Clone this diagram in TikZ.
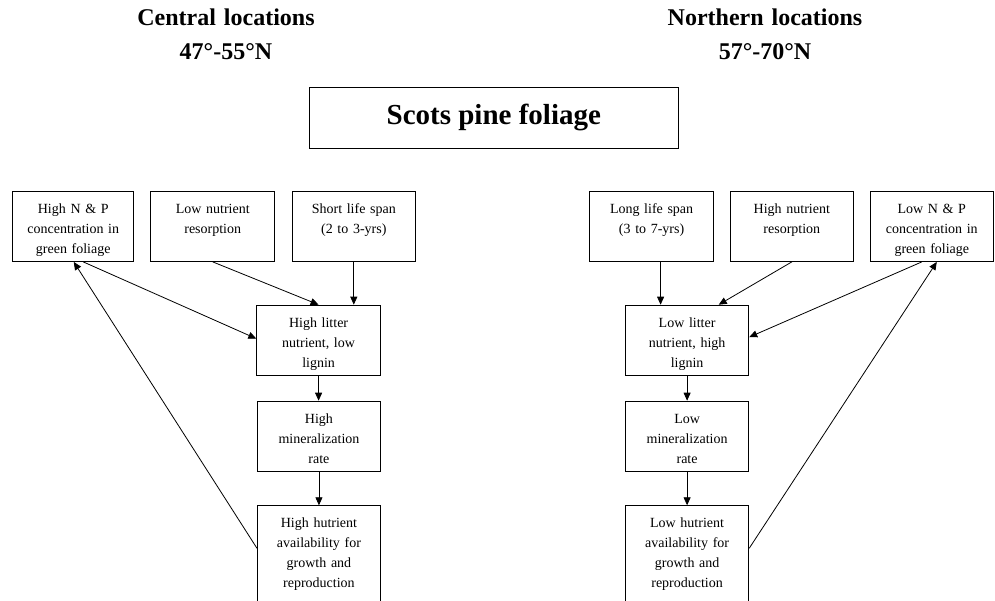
\documentclass[tikz,border=0pt]{standalone}
\usepackage{fontspec}
\setmainfont{Liberation Serif}
\usetikzlibrary{arrows.meta}
\begin{document}
\begin{tikzpicture}[x=1pt,y=-1pt,
  box/.style={draw, line width=0.9pt, align=center, inner sep=0pt,
    text height=22pt, text depth=48pt, font=\fontsize{14}{20}\selectfont},
  tallbox/.style={box, text depth=120pt},
  hdr/.style={align=center, text width=300pt, inner sep=0pt,
    font=\bfseries\fontsize{24}{34}\selectfont},
  arr/.style={line width=0.8pt, -{Triangle[length=8pt,width=7pt]}}]
\clip (0,0) rectangle (995,601);
\fill[white] (0,0) rectangle (995,601);
% headers
\node[hdr, anchor=base] (hc) at (226,26) {Central locations\\47°-55°N};
\node[hdr, anchor=base] (hn) at (765,26) {Northern locations\\57°-70°N};
\node[draw, line width=0.9pt, minimum width=368.7pt, minimum height=60.4pt,
  anchor=north west, font=\bfseries\fontsize{29}{34}\selectfont] (title) at (309,87.3) {Scots pine foliage};
% left
\node[box, text width=121pt, anchor=north west] (L1) at (12.3,191) {High N \& P\\concentration in\\green foliage};
\node[box, text width=124pt, anchor=north west] (L2) at (150.3,191) {Low nutrient\\resorption};
\node[box, text width=123.3pt, anchor=north west] (L3) at (291.7,191) {Short life span\\(2 to 3-yrs)};
\node[box, text width=123.7pt, anchor=north west] (LL) at (256.3,304.7) {High litter\\nutrient, low\\lignin};
\node[box, text width=123pt, anchor=north west] (LM) at (257,400.7) {High\\mineralization\\rate};
\node[tallbox, text width=123pt, anchor=north west] (LA) at (257,505.3) {High hutrient\\availability for\\growth and\\reproduction};
% right
\node[box, text width=123.7pt, anchor=north west] (R1) at (589.3,191) {Long life span\\(3 to 7-yrs)};
\node[box, text width=122.7pt, anchor=north west] (R2) at (730,191) {High nutrient\\resorption};
\node[box, text width=122.7pt, anchor=north west] (R3) at (870,191) {Low N \& P\\concentration in\\green foliage};
\node[box, text width=123.3pt, anchor=north west] (RL) at (625,304.7) {Low litter\\nutrient, high\\lignin};
\node[box, text width=123.3pt, anchor=north west] (RM) at (625,400.7) {Low\\mineralization\\rate};
\node[tallbox, text width=123.3pt, anchor=north west] (RA) at (625,505.3) {Low hutrient\\availability for\\growth and\\reproduction};
% left arrows
\draw[arr] (L2.south) -- (LL.north);
\draw[arr] (L3.south) -- (L3.south |- LL.north);
\draw[arr] ([xshift=10pt]L1.south) -- ([yshift=1.5pt]LL.west);
\draw[arr] ([yshift=-43pt]LA.north west) -- ([xshift=0.5pt]L1.south);
\draw[arr] (LL.south) -- (LL.south |- LM.north);
\draw[arr] (LM.south) -- (LM.south |- LA.north);
% right arrows
\draw[arr] ([xshift=9pt]R1.south) -- ([xshift=9pt]R1.south |- RL.north);
\draw[arr] (R2.south) -- ([xshift=31.6pt]RL.north);
\draw[arr] ([xshift=-10pt]R3.south) -- ([yshift=3pt]RL.east);
\draw[arr] ([yshift=-43pt]RA.north east) -- ([xshift=5pt]R3.south);
\draw[arr] (RL.south) -- (RL.south |- RM.north);
\draw[arr] (RM.south) -- (RM.south |- RA.north);
\end{tikzpicture}
\end{document}
